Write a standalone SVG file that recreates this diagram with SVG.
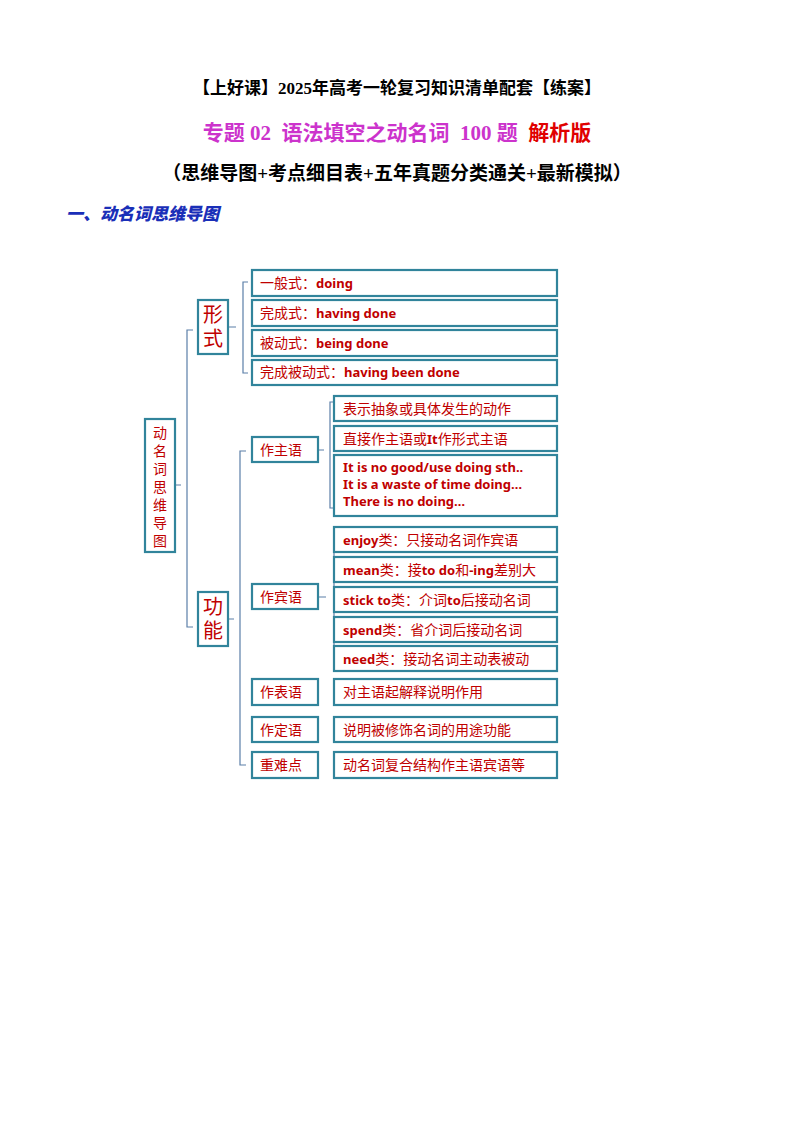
<svg xmlns="http://www.w3.org/2000/svg" width="794" height="1123" viewBox="0 0 794 1123">
<style>
.b{fill:#fff;stroke:#31849B;stroke-width:2.2}
.t{font-family:"Liberation Serif","Noto Sans CJK SC",serif;fill:#C00000;font-size:14px}
.e{font-family:"Noto Sans","Noto Sans CJK SC",sans-serif;fill:#C00000;font-size:13px;font-weight:bold}
.m{font-family:"Liberation Serif","Noto Sans CJK SC",serif;fill:#C00000;font-size:20px}
.c{fill:none;stroke:#5B7FA8;stroke-width:1.2}
</style>
<rect width="794" height="1123" fill="#fff"/>
<text x="397" y="94" text-anchor="middle" font-family="Liberation Serif,Noto Sans CJK SC,serif" font-weight="bold" font-size="17">【上好课】2025年高考一轮复习知识清单配套【练案】</text>
<text x="397" y="140" text-anchor="middle" font-family="Liberation Serif,Noto Sans CJK SC,serif" font-weight="bold" font-size="21" xml:space="preserve"><tspan fill="#CC33CC">专题 02  语法填空之动名词  100 题  </tspan><tspan fill="#E00000">解析版</tspan></text>
<text x="397" y="180" text-anchor="middle" font-family="Liberation Serif,Noto Sans CJK SC,serif" font-weight="bold" font-size="19">（思维导图+考点细目表+五年真题分类通关+最新模拟）</text>
<text x="66" y="220" font-family="Noto Sans CJK SC,sans-serif" font-weight="900" font-style="italic" font-size="17" fill="#1A2FB8">一、动名词思维导图</text>
<g id="connectors">
<path class="c" d="M175 485h6M193 330h-6v297h6M228 327h8M248 282h-5v91h5M228 619h6M246 451h-6v314h6M318 450h6M334 402h-4v106h4M318 597h8M338 538h-4v119h4"/>
</g>
<g id="root"><rect class="b" x="145" y="419" width="30" height="133"/>
<text class="t" x="160" y="438" text-anchor="middle" font-size="15"><tspan x="160">动</tspan><tspan x="160" dy="18">名</tspan><tspan x="160" dy="18">词</tspan><tspan x="160" dy="18">思</tspan><tspan x="160" dy="18">维</tspan><tspan x="160" dy="18">导</tspan><tspan x="160" dy="18">图</tspan></text></g>
<g id="xingshi"><rect class="b" x="198" y="300" width="30" height="54"/><text class="m" x="213" y="322" text-anchor="middle"><tspan x="213">形</tspan><tspan x="213" dy="24">式</tspan></text></g>
<g id="gongneng"><rect class="b" x="198" y="592" width="30" height="54"/><text class="m" x="213" y="614" text-anchor="middle"><tspan x="213">功</tspan><tspan x="213" dy="24">能</tspan></text></g>
<g id="f1"><rect class="b" x="252" y="270" width="305" height="26"/><text class="t" x="260" y="288">一般式：<tspan class="e">doing</tspan></text></g>
<g id="f2"><rect class="b" x="252" y="300" width="305" height="26"/><text class="t" x="260" y="318">完成式：<tspan class="e">having done</tspan></text></g>
<g id="f3"><rect class="b" x="252" y="330" width="305" height="26"/><text class="t" x="260" y="348">被动式：<tspan class="e">being done</tspan></text></g>
<g id="f4"><rect class="b" x="252" y="360" width="305" height="25"/><text class="t" x="260" y="377">完成被动式：<tspan class="e">having been done</tspan></text></g>
<g id="zhu"><rect class="b" x="252" y="437" width="66" height="25"/><text class="t" x="260" y="455">作主语</text></g>
<g id="bin"><rect class="b" x="252" y="584" width="66" height="25"/><text class="t" x="260" y="602">作宾语</text></g>
<g id="biao"><rect class="b" x="252" y="679" width="66" height="26"/><text class="t" x="260" y="697">作表语</text></g>
<g id="ding"><rect class="b" x="252" y="717" width="66" height="25"/><text class="t" x="260" y="735">作定语</text></g>
<g id="zhong"><rect class="b" x="252" y="752" width="66" height="26"/><text class="t" x="260" y="770">重难点</text></g>
<g id="z1"><rect class="b" x="334" y="396" width="223" height="25"/><text class="t" x="343" y="414">表示抽象或具体发生的动作</text></g>
<g id="z2"><rect class="b" x="334" y="426" width="223" height="25"/><text class="t" x="343" y="444">直接作主语或<tspan class="e">It</tspan>作形式主语</text></g>
<g id="z3"><rect class="b" x="334" y="455" width="223" height="61"/><text class="e" x="343" y="472">It is no good/use doing sth..</text><text class="e" x="343" y="489">It is a waste of time doing…</text><text class="e" x="343" y="506">There is no doing…</text></g>
<g id="b1"><rect class="b" x="334" y="527" width="223" height="25"/><text class="t" x="343" y="545"><tspan class="e">enjoy</tspan>类：只接动名词作宾语</text></g>
<g id="b2"><rect class="b" x="334" y="557" width="223" height="25"/><text class="t" x="343" y="575"><tspan class="e">mean</tspan>类：接<tspan class="e">to do</tspan>和<tspan class="e">-ing</tspan>差别大</text></g>
<g id="b3"><rect class="b" x="334" y="587" width="223" height="25"/><text class="t" x="343" y="605"><tspan class="e">stick to</tspan>类：介词<tspan class="e">to</tspan>后接动名词</text></g>
<g id="b4"><rect class="b" x="334" y="617" width="223" height="25"/><text class="t" x="343" y="635"><tspan class="e">spend</tspan>类：省介词后接动名词</text></g>
<g id="b5"><rect class="b" x="334" y="646" width="223" height="25"/><text class="t" x="343" y="664"><tspan class="e">need</tspan>类：接动名词主动表被动</text></g>
<g id="c1"><rect class="b" x="334" y="679" width="223" height="26"/><text class="t" x="343" y="697">对主语起解释说明作用</text></g>
<g id="c2"><rect class="b" x="334" y="717" width="223" height="25"/><text class="t" x="343" y="735">说明被修饰名词的用途功能</text></g>
<g id="c3"><rect class="b" x="334" y="752" width="223" height="26"/><text class="t" x="343" y="770">动名词复合结构作主语宾语等</text></g>
</svg>
